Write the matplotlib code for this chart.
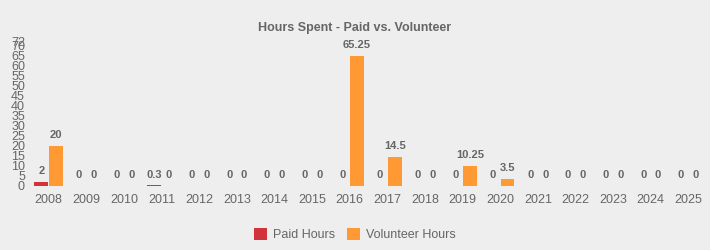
import numpy as np
import matplotlib.pyplot as plt

plt.rcParams['font.family'] = ['Liberation Sans', 'DejaVu Sans']

# données
years = ["2008", "2009", "2010", "2011", "2012", "2013", "2014", "2015", "2016",
         "2017", "2018", "2019", "2020", "2021", "2022", "2023", "2024", "2025"]
paid = [2, 0, 0, 0.3, 0, 0, 0, 0, 0, 0, 0, 0, 0, 0, 0, 0, 0, 0]
volunteer = [20, 0, 0, 0, 0, 0, 0, 0, 65.25, 14.5, 0, 10.25, 3.5, 0, 0, 0, 0, 0]
y_ticks = [0, 5, 10, 15, 20, 25, 30, 35, 40, 45, 50, 55, 60, 65, 70, 72]

bg = '#eeeeee'
grey = '#666666'
red = '#d0333a'
orange = '#ff9933'

fig = plt.figure(figsize=(7.1, 2.5), dpi=100, facecolor=bg)
ax = fig.add_axes([0.042, 0.256, 0.954, 0.576], facecolor=bg)

x = np.arange(len(years))
w = 0.37
b1 = ax.bar(x - w / 2 - 0.01, paid, w, color=red, label="Paid Hours")
b2 = ax.bar(x + w / 2 + 0.01, volunteer, w, color=orange, label="Volunteer Hours")

def fmt(v):
    return f"{v:g}"

for bars, vals in ((b1, paid), (b2, volunteer)):
    for r, v in zip(bars, vals):
        ax.annotate(fmt(v), (r.get_x() + r.get_width() / 2, v), xytext=(0, 4),
                    textcoords='offset points', ha='center', va='bottom',
                    fontsize=8, fontweight='bold', color=grey)

ax.set_xlim(-0.5, len(years) - 0.5)
ax.set_ylim(0, 72)
ax.set_yticks(y_ticks)
ax.set_yticklabels([str(t) for t in y_ticks])
ax.set_xticks(x)
ax.set_xticklabels(years)
ax.tick_params(axis='both', length=0, colors=grey, labelsize=9)
ax.tick_params(axis='x', pad=6)
for s in ax.spines.values():
    s.set_visible(False)

fig.suptitle("Hours Spent - Paid vs. Volunteer", x=0.5, y=0.91, fontsize=9,
             fontweight='bold', color=grey)
fig.legend(loc='lower center', bbox_to_anchor=(0.5, -0.01), ncol=2, frameon=False,
           fontsize=9, labelcolor=grey, handlelength=1.0, handleheight=1.0,
           columnspacing=1.0, handletextpad=0.5)

fig.savefig("out.png", dpi=100, facecolor=bg)
